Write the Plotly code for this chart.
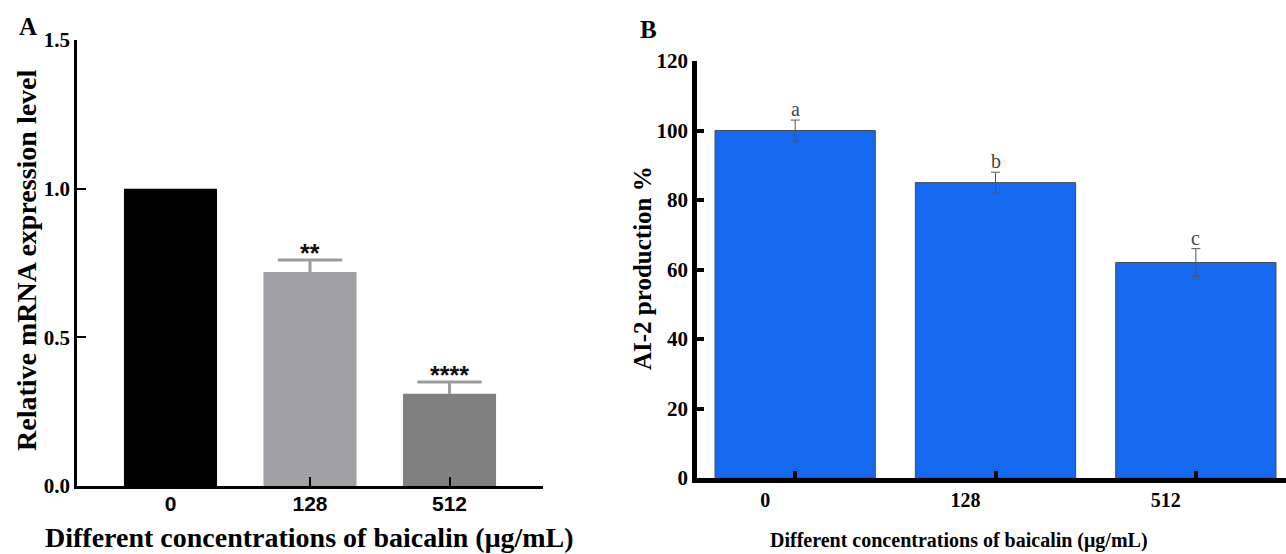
import plotly.graph_objects as go

W, H = 1286, 554

# ---- data ----
categories = ["0", "128", "512"]
mrna_values = [1.0, 0.72, 0.31]
mrna_err = [0.0, 0.04, 0.04]
mrna_sig = ["", "**", "****"]
mrna_colors = ["#000000", "#A1A1A5", "#808080"]

ai2_values = [100, 85, 62]
ai2_err = [3, 3, 4]
ai2_letters = ["a", "b", "c"]

xtitle = "Different concentrations of baicalin (μg/mL)"
ytitle_a = "Relative mRNA expression level"
ytitle_b = "AI-2 production %"

SERIF = "Times New Roman, Liberation Serif, serif"
SANS = "Arial, Liberation Sans, sans-serif"

def px_x(p):
    return p / W

def px_y(p):
    return 1 - p / H

fig = go.Figure()

# Panel A bars with one-sided stems (no caps), caps drawn as line markers
fig.add_trace(go.Bar(
    x=categories, y=mrna_values, width=0.667,
    marker=dict(color=mrna_colors, line=dict(width=0)),
    error_y=dict(type="data", symmetric=False, array=mrna_err, arrayminus=[0] * 3,
                 color="#9B9B9B", thickness=3, width=0),
    xaxis="x", yaxis="y", showlegend=False,
))
cap_x = [c for c, e in zip(categories, mrna_err) if e > 0]
cap_y = [v + e for v, e in zip(mrna_values, mrna_err) if e > 0]
fig.add_trace(go.Scatter(
    x=cap_x, y=cap_y, mode="markers",
    marker=dict(symbol="line-ew", size=46, line=dict(color="#9B9B9B", width=3)),
    xaxis="x", yaxis="y", showlegend=False, hoverinfo="skip",
))

# Panel B bars
fig.add_trace(go.Bar(
    x=categories, y=ai2_values, width=0.8,
    marker=dict(color="#1469EE", line=dict(color="#4A4A4A", width=1)),
    error_y=dict(type="data", array=ai2_err, color="#555555", thickness=1, width=4.5),
    xaxis="x2", yaxis="y2", showlegend=False,
))

annotations = []
# significance stars
for i, c in enumerate(categories):
    if mrna_sig[i]:
        annotations.append(dict(x=i, y=mrna_values[i] + mrna_err[i], xref="x", yref="y",
                                text="<b>" + mrna_sig[i] + "</b>", showarrow=False,
                                xanchor="center", yanchor="bottom", yshift=-9,
                                font=dict(family=SANS, size=25, color="#111")))
# letters
for i, c in enumerate(categories):
    annotations.append(dict(x=i, y=ai2_values[i] + ai2_err[i], xref="x2", yref="y2",
                            text=ai2_letters[i], showarrow=False, xanchor="center",
                            yanchor="bottom", yshift=-2,
                            font=dict(family=SERIF, size=20, color="#444")))

def label(x, y, text, size, angle=0):
    return dict(x=px_x(x), y=px_y(y), xref="paper", yref="paper", text=text,
                showarrow=False, xanchor="center", yanchor="middle", textangle=angle,
                font=dict(family=SERIF, size=size, color="black"))

annotations += [
    label(28, 26, "<b>A</b>", 25),
    label(648, 30, "<b>B</b>", 25),
    label(309, 537, "<b>" + xtitle + "</b>", 28),
    label(959, 540, "<b>" + xtitle + "</b>", 20),
    label(26, 260, "<b>" + ytitle_a + "</b>", 28, -90),
    label(642, 268, "<b>" + ytitle_b + "</b>", 25, -90),
]

common = dict(showgrid=False, zeroline=False, automargin=False)

fig.update_layout(
    width=W, height=H,
    margin=dict(l=0, r=0, t=0, b=0, autoexpand=False),
    paper_bgcolor="white", plot_bgcolor="white",
    barmode="overlay",
    showlegend=False,
    annotations=annotations,
    xaxis=dict(domain=[px_x(77), px_x(543)], anchor="y", range=[-0.67, 2.67],
               type="category", categoryorder="array", categoryarray=categories,
               showline=True, linecolor="black", linewidth=2.5,
               ticks="inside", ticklen=9, tickwidth=2, tickcolor="black",
               ticklabelstandoff=-3,
               tickfont=dict(family=SANS, size=21, color="black", weight="bold"),
               **common),
    yaxis=dict(domain=[px_y(486), px_y(40)], anchor="x", range=[0, 1.5],
               tickvals=[0, 0.5, 1.0, 1.5], ticktext=["0.0", "0.5", "1.0", "1.5"],
               showline=True, linecolor="black", linewidth=2.5,
               ticks="inside", ticklen=9, tickwidth=2, tickcolor="black",
               tickfont=dict(family=SERIF, size=21, color="black", weight="bold"),
               **common),
    xaxis2=dict(domain=[px_x(697), 1.0], anchor="y2", range=[-0.49, 2.45],
                type="category", categoryorder="array", categoryarray=categories,
                showline=True, linecolor="black", linewidth=4.5,
                ticks="inside", ticklen=7, tickwidth=4, tickcolor="black",
                ticklabelshift=-30,
                tickfont=dict(family=SERIF, size=20, color="black", weight="bold"),
                **common),
    yaxis2=dict(domain=[px_y(478), px_y(61)], anchor="x2", range=[0, 120],
                tickvals=[0, 20, 40, 60, 80, 100, 120],
                showline=True, linecolor="black", linewidth=4.5,
                ticks="inside", ticklen=7, tickwidth=4, tickcolor="black",
                tickfont=dict(family=SERIF, size=21, color="black", weight="bold"),
                **common),
)

fig.write_html("out.html")
